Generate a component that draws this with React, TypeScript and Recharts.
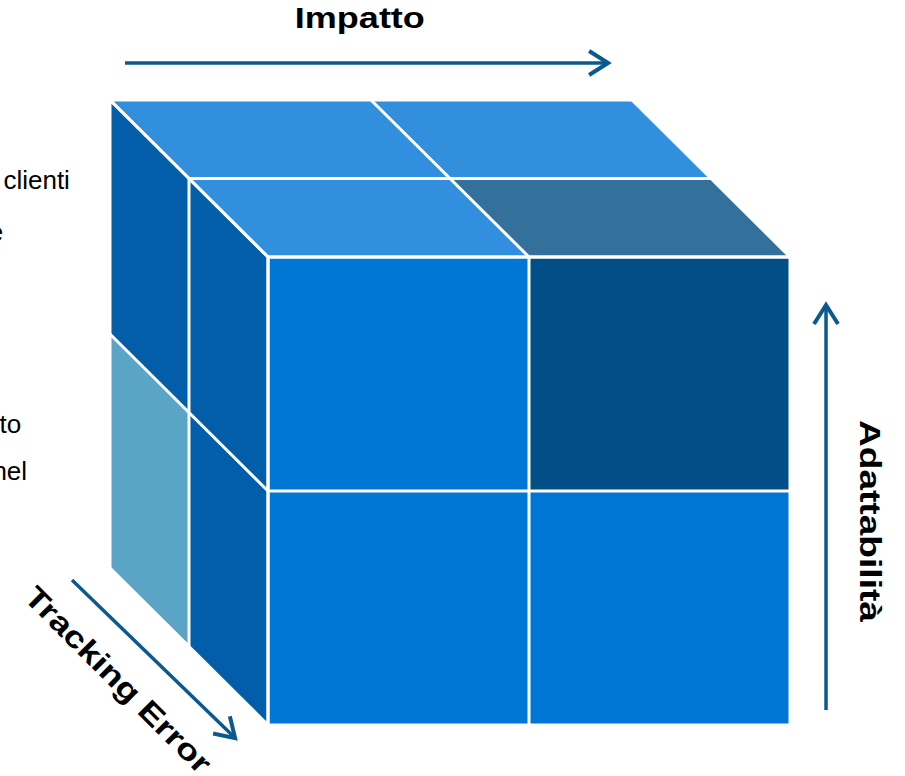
import { ComposedChart, XAxis, YAxis, Area, Line, ReferenceDot } from "recharts";

// cubo 2 x 2 x 2: colonne = Impatto, righe = Adattabilità, profondità = Tracking Error
const impattoLevels = ["Basso", "Alto"];
const adattabilitaLevels = ["Bassa", "Alta"];
const trackingLevels = ["Avanti", "Dietro"];

// cubetti evidenziati
const highlightedCubes = [{ col: 1, row: 1, depth: 0 }];
const mutedCubes = [{ col: 0, row: 0, depth: 1 }];

// frecce degli assi (unità del cubo, già proiettate)
const impattoArrow = [
  { x: -0.548, y: 2.829 },
  { x: 1.303, y: 2.829 },
];
const adattabilitaArrow = [
  { x: 2.138, y: 0.064 },
  { x: 2.138, y: 1.795 },
];
const trackingArrow = [
  { x: -0.751, y: 0.62 },
  { x: -0.126, y: -0.056 },
];

const axisTitles = [
  { text: "Impatto", x: 0.352, y: 2.979, angle: 0, length: 130 },
  { text: "Adattabilità", x: 2.268, y: 0.872, angle: 90, length: 202 },
  { text: "Tracking Error", x: -0.602, y: 0.162, angle: 45, length: 250 },
];

// testo tagliato sul bordo sinistro
const sideTexts = [
  { text: "clienti", x: -0.759, y: 2.291 },
  { text: "e", x: -1.015, y: 2.068 },
  { text: "to", x: -0.946, y: 1.248 },
  { text: "nel", x: -0.923, y: 1.047 },
];

// proiezione obliqua e scala in pixel
const DX = -0.3027;
const DY = 0.3355;
const PX_X = 261;
const PX_Y = 234;
const X_MIN = -268 / PX_X;
const X_MAX = (905 - 268) / PX_X;
const Y_MIN = (725 - 776) / PX_Y;
const Y_MAX = 725 / PX_Y;

const COLORS = {
  front: "#0077D4",
  frontHi: "#024F87",
  top: "#318FDD",
  topHi: "#33719C",
  left: "#035EA9",
  leftMuted: "#5AA5C6",
  arrow: "#0B5A8F",
};

const proj = (x: number, y: number, z: number) => ({ x: x + DX * z, y: y + DY * z });

const isIn = (list: { col: number; row: number; depth: number }[], c: number, r: number, d: number) =>
  list.some((q) => q.col === c && q.row === r && q.depth === d);

type Face = { key: string; fill: string; points: { x: number; range: [number, number] }[] };

const faces: Face[] = [];
const nC = impattoLevels.length;
const nR = adattabilitaLevels.length;
const nD = trackingLevels.length;

// facce frontali (profondità 0)
for (let c = 0; c < nC; c++) {
  for (let r = 0; r < nR; r++) {
    faces.push({
      key: `f-${c}-${r}`,
      fill: isIn(highlightedCubes, c, r, 0) ? COLORS.frontHi : COLORS.front,
      points: [
        { x: c, range: [r, r + 1] },
        { x: c + 1, range: [r, r + 1] },
      ],
    });
  }
}
// facce superiori (riga alta)
for (let c = 0; c < nC; c++) {
  for (let d = 0; d < nD; d++) {
    const yb = nR + DY * (d + 1);
    const yf = nR + DY * d;
    faces.push({
      key: `t-${c}-${d}`,
      fill: isIn(highlightedCubes, c, nR - 1, d) ? COLORS.topHi : COLORS.top,
      points: [
        { x: c + DX * (d + 1), range: [yb, yb] },
        { x: c + DX * d, range: [yf, yb] },
        { x: c + 1 + DX * (d + 1), range: [yf, yb] },
        { x: c + 1 + DX * d, range: [yf, yf] },
      ],
    });
  }
}
// facce laterali (colonna sinistra)
for (let r = 0; r < nR; r++) {
  for (let d = 0; d < nD; d++) {
    faces.push({
      key: `l-${r}-${d}`,
      fill: isIn(mutedCubes, 0, r, d) ? COLORS.leftMuted : COLORS.left,
      points: [
        { x: DX * (d + 1), range: [r + DY * (d + 1), r + 1 + DY * (d + 1)] },
        { x: DX * d, range: [r + DY * d, r + 1 + DY * d] },
      ],
    });
  }
}

// spigoli bianchi tra le celle
const edges: { x: number; y: number }[][] = [];
for (let i = 0; i <= nC; i++) {
  edges.push([proj(i, 0, 0), proj(i, nR, 0)]);
  edges.push([proj(i, nR, 0), proj(i, nR, nD)]);
}
for (let j = 0; j <= nR; j++) {
  edges.push([proj(0, j, 0), proj(nC, j, 0)]);
  edges.push([proj(0, j, 0), proj(0, j, nD)]);
}
for (let k = 0; k <= nD; k++) {
  edges.push([proj(0, nR, k), proj(nC, nR, k)]);
  edges.push([proj(0, 0, k), proj(0, nR, k)]);
}

function arrowHead(line: { x: number; y: number }[], back = 19, half = 12) {
  const [tail, tip] = line;
  const dx = (tip.x - tail.x) * PX_X;
  const dy = -(tip.y - tail.y) * PX_Y;
  const len = Math.hypot(dx, dy);
  const ux = dx / len;
  const uy = dy / len;
  const arm = (s: number) => ({
    x: tip.x + (-back * ux + s * half * -uy) / PX_X,
    y: tip.y - (-back * uy + s * half * ux) / PX_Y,
  });
  return [arm(1), tip, arm(-1)];
}

const arrows = [impattoArrow, adattabilitaArrow, trackingArrow];
const FONT = "'Liberation Sans', Arial, Helvetica, sans-serif";

export default function App() {
  return (
    <div style={{ position: "absolute", left: 0, top: 0 }}>
      <ComposedChart width={905} height={776} margin={{ top: 0, right: 0, bottom: 0, left: 0 }}>
        <XAxis type="number" dataKey="x" domain={[X_MIN, X_MAX]} allowDataOverflow hide />
        <YAxis type="number" domain={[Y_MIN, Y_MAX]} allowDataOverflow hide />
        {faces.map((f) => (
          <Area
            key={f.key}
            data={f.points}
            dataKey="range"
            type="linear"
            stroke="none"
            fill={f.fill}
            fillOpacity={1}
            dot={false}
            activeDot={false}
            isAnimationActive={false}
          />
        ))}
        {edges.map((e, i) => (
          <Line
            key={`e-${i}`}
            data={e}
            dataKey="y"
            type="linear"
            stroke="#ffffff"
            strokeWidth={3}
            dot={false}
            activeDot={false}
            isAnimationActive={false}
          />
        ))}
        {arrows.map((a, i) => (
          <Line
            key={`a-${i}`}
            data={a}
            dataKey="y"
            type="linear"
            stroke={COLORS.arrow}
            strokeWidth={3.5}
            dot={false}
            activeDot={false}
            isAnimationActive={false}
          />
        ))}
        {arrows.map((a, i) => (
          <Line
            key={`h-${i}`}
            data={arrowHead(a)}
            dataKey="y"
            type="linear"
            stroke={COLORS.arrow}
            strokeWidth={4}
            strokeLinejoin="miter"
            dot={false}
            activeDot={false}
            isAnimationActive={false}
          />
        ))}
        {axisTitles.map((t) => (
          <ReferenceDot
            key={t.text}
            x={t.x}
            y={t.y}
            r={0}
            shape={(p: any) => (
              <text
                x={p.cx}
                y={p.cy}
                textAnchor="middle"
                transform={`rotate(${t.angle} ${p.cx} ${p.cy})`}
                fontFamily={FONT}
                fontWeight="bold"
                fontSize={30}
                fill="#000"
                textLength={t.length}
                lengthAdjust="spacingAndGlyphs"
              >
                {t.text}
              </text>
            )}
          />
        ))}
        {sideTexts.map((t) => (
          <ReferenceDot
            key={t.text}
            x={t.x}
            y={t.y}
            r={0}
            shape={(p: any) => (
              <text x={p.cx} y={p.cy} textAnchor="end" fontFamily={FONT} fontSize={26} fill="#000">
                {t.text}
              </text>
            )}
          />
        ))}
      </ComposedChart>
    </div>
  );
}
